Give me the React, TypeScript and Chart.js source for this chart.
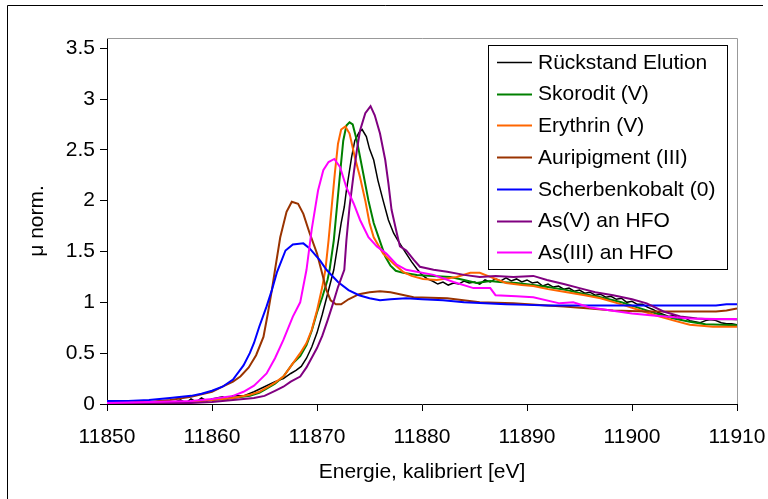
import React, { useEffect, useRef } from "react";
import { Chart, registerables } from "chart.js";

Chart.register(...registerables);

// ---------- data ----------
const seriesNames = [
  "Rückstand Elution",
  "Skorodit (V)",
  "Erythrin (V)",
  "Auripigment (III)",
  "Scherbenkobalt (0)",
  "As(V) an HFO",
  "As(III) an HFO",
];
const seriesColors = ["#000000", "#008000", "#FF6600", "#993300", "#0000FF", "#800080", "#FF00FF"];
const seriesWidths = [1.5, 2, 2, 2, 2, 2, 2];

const xTicks = [11850, 11860, 11870, 11880, 11890, 11900, 11910];
const yTicks = [0, 0.5, 1, 1.5, 2, 2.5, 3, 3.5];

const rueckstandE = [
  11850, 11851, 11852, 11853, 11854, 11855, 11856, 11857, 11857.5, 11858, 11858.5, 11859, 11859.5, 11860, 11861,
  11861.5, 11862, 11863, 11864, 11865, 11866, 11866.8, 11867.5, 11868, 11868.5, 11869, 11869.5, 11870, 11870.5,
  11871, 11871.6, 11872, 11872.3, 11872.6, 11872.8, 11873.3, 11873.6, 11874, 11874.3, 11874.7, 11875, 11875.4,
  11875.8, 11876.3, 11876.8, 11877.3, 11877.7,
  11878, 11878.5, 11879, 11879.5, 11880, 11880.5, 11881, 11881.5, 11882, 11882.5, 11883, 11883.5, 11884, 11884.5,
  11885, 11885.5, 11886, 11886.5, 11887, 11887.5, 11888, 11888.5, 11889, 11889.5, 11890, 11890.5, 11891, 11891.5,
  11892, 11892.5, 11893, 11893.5, 11894, 11894.5, 11895, 11895.5, 11896, 11896.5, 11897, 11897.5, 11898, 11898.5,
  11899, 11899.5, 11900, 11900.5, 11901, 11901.5, 11902, 11902.5, 11903, 11903.5, 11904, 11904.5, 11905, 11905.5,
  11906, 11906.5, 11907, 11907.5, 11908, 11908.5, 11909, 11909.5, 11910,
];
const rueckstandMu = [
  0.01, 0.02, 0.0, 0.03, 0.01, 0.03, 0.0, 0.04, 0.01, 0.05, 0.02, 0.06, 0.03, 0.05, 0.07,
  0.05, 0.08, 0.08, 0.12, 0.17, 0.22, 0.25, 0.3, 0.33, 0.37, 0.45, 0.56, 0.7, 0.88,
  1.08, 1.32, 1.58, 1.78, 1.94, 2.1, 2.43, 2.59, 2.67, 2.7, 2.63, 2.51, 2.4,
  2.2, 2.0, 1.81, 1.68, 1.61,
  1.56, 1.48, 1.4, 1.33, 1.27, 1.23, 1.21, 1.18, 1.2, 1.17, 1.19, 1.18, 1.21, 1.19,
  1.2, 1.18, 1.22, 1.2, 1.23, 1.21, 1.24, 1.21, 1.23, 1.2, 1.22, 1.19, 1.2, 1.16,
  1.18, 1.15, 1.16, 1.13, 1.14, 1.11, 1.12, 1.09, 1.1, 1.07, 1.08, 1.05, 1.06, 1.03,
  1.04, 1.0, 1.01, 0.98, 0.98, 0.95, 0.93, 0.9, 0.88, 0.86, 0.87, 0.84, 0.85, 0.82,
  0.81, 0.8, 0.82, 0.83, 0.82, 0.8, 0.79, 0.79, 0.78,
];

const skoroditE = [
  11850, 11854, 11858, 11860, 11862, 11863.6, 11864.5, 11865.2, 11866, 11866.8, 11867.7, 11868.4, 11869, 11869.5,
  11870, 11870.5, 11871, 11871.2, 11871.6, 11871.9, 11872.2, 11872.5, 11872.8, 11873.1, 11873.4, 11873.8, 11874.4,
  11874.9, 11875.4, 11876, 11876.5, 11877, 11877.5, 11878.2, 11879.5, 11881, 11882.7, 11884, 11885.2, 11886.5,
  11887.4, 11889, 11890.6, 11892, 11893.8, 11895.5, 11897, 11899, 11900.5, 11902.3, 11904, 11905.5, 11907, 11908.5,
  11910,
];
const skoroditMu = [
  0.01, 0.01, 0.02, 0.04, 0.06, 0.08, 0.11, 0.15, 0.2, 0.27, 0.4, 0.47, 0.58, 0.72,
  0.9, 1.05, 1.22, 1.32, 1.61, 1.94, 2.27, 2.59, 2.74, 2.77, 2.75, 2.59, 2.27,
  2.0, 1.78, 1.6, 1.45, 1.36, 1.31, 1.29, 1.27, 1.26, 1.25, 1.22, 1.19, 1.21,
  1.2, 1.19, 1.17, 1.15, 1.12, 1.08, 1.05, 1.0, 0.95, 0.89, 0.84, 0.81, 0.785, 0.78,
  0.775,
];

const erythrinE = [
  11850, 11854, 11858, 11860, 11862, 11863.6, 11864.5, 11865.2, 11866, 11866.8, 11867.7, 11868.4, 11869, 11869.5,
  11870, 11870.5, 11870.8, 11871.1, 11871.4, 11871.7, 11872, 11872.3, 11872.7, 11873.1, 11873.6, 11874.1, 11874.6,
  11875, 11875.4, 11876.3, 11877.3, 11878.2, 11879, 11880.1, 11881.4, 11883.3, 11884.6, 11885.5, 11886.5, 11888,
  11889.5, 11890.6, 11892, 11893.8, 11895.5, 11897, 11899, 11900.5, 11902.3, 11904, 11905.5, 11907.7, 11910,
];
const erythrinMu = [
  0.0, 0.01, 0.02, 0.04, 0.06, 0.09, 0.12, 0.16, 0.21, 0.27, 0.4, 0.5, 0.6, 0.73,
  0.92, 1.15, 1.32, 1.61, 1.94, 2.27, 2.56, 2.7, 2.73, 2.66, 2.43, 2.23, 2.0,
  1.78, 1.64, 1.48, 1.38, 1.3, 1.26, 1.23, 1.22, 1.25, 1.29, 1.29, 1.25, 1.19,
  1.17, 1.16, 1.13, 1.1, 1.07, 1.04, 0.98, 0.93, 0.87, 0.82, 0.78, 0.76, 0.76,
];

const auripigmentE = [
  11850, 11854, 11856, 11858, 11860, 11861, 11862, 11862.7, 11863.5, 11864.2, 11864.9, 11865.3, 11865.7, 11866,
  11866.5, 11867.1, 11867.6, 11868.2, 11868.7, 11869.3, 11870, 11870.4, 11870.9, 11871.3, 11871.8, 11872.3, 11873,
  11874, 11875, 11876, 11877, 11879.2, 11882.4, 11885.5, 11888.7, 11891.9, 11893.5, 11896, 11898.2, 11901.4,
  11904, 11906.2, 11908, 11909, 11910,
];
const auripigmentMu = [
  0.01, 0.02, 0.04, 0.07, 0.12, 0.17, 0.22, 0.27, 0.36, 0.48, 0.66, 0.88, 1.12, 1.32,
  1.64, 1.89, 1.99, 1.97, 1.87, 1.68, 1.48, 1.32, 1.12, 1.02, 0.98, 0.98, 1.03,
  1.08, 1.1, 1.11, 1.1, 1.05, 1.04, 1.0, 0.99, 0.97, 0.96, 0.94, 0.92, 0.91,
  0.91, 0.91, 0.91, 0.92, 0.94,
];

const scherbenkobaltE = [
  11850, 11852, 11854, 11856, 11858, 11859, 11860, 11861, 11862, 11863, 11863.6, 11864, 11864.5, 11865.2, 11865.7,
  11866.2, 11867, 11867.7, 11868.7, 11869.3, 11870.3, 11870.9, 11872, 11873, 11874, 11875, 11876, 11877, 11878.5,
  11880, 11882, 11884, 11886, 11888, 11890, 11892, 11895, 11900, 11905, 11908, 11909, 11910,
];
const scherbenkobaltMu = [
  0.03, 0.03, 0.04, 0.06, 0.08, 0.1, 0.13, 0.17, 0.24, 0.38, 0.5, 0.6, 0.76, 0.96, 1.12,
  1.3, 1.51, 1.57, 1.58, 1.53, 1.41, 1.32, 1.2, 1.12, 1.07, 1.04, 1.02, 1.03, 1.04,
  1.03, 1.02, 1.0, 0.99, 0.98, 0.975, 0.97, 0.97, 0.97, 0.97, 0.97, 0.98, 0.98,
];

const asVHfoE = [
  11850, 11856, 11858, 11860, 11862, 11863, 11864, 11865, 11866, 11866.8, 11867.5, 11868.4, 11869, 11870, 11870.5,
  11871, 11871.5, 11872, 11872.6, 11872.8, 11873.1, 11873.5, 11873.8, 11874.1, 11874.6, 11875.1, 11875.5, 11876,
  11876.5, 11876.8, 11877.1, 11877.6, 11877.9, 11878.5, 11879.2, 11879.8, 11881.1, 11882.4, 11884, 11885.5, 11887,
  11888.7, 11890.6, 11891.9, 11893.5, 11895, 11896.5, 11898.2, 11900, 11901.4, 11903, 11904.6, 11906.2, 11907.7,
  11909, 11910,
];
const asVHfoMu = [
  0.0, 0.01, 0.01, 0.02, 0.04, 0.05, 0.06, 0.08, 0.13, 0.17, 0.22, 0.27, 0.36, 0.55, 0.67,
  0.82, 0.98, 1.15, 1.32, 1.61, 1.94, 2.27, 2.5, 2.69, 2.86, 2.93, 2.84, 2.66,
  2.4, 2.17, 1.91, 1.68, 1.55, 1.51, 1.42, 1.35, 1.32, 1.3, 1.27, 1.25, 1.26,
  1.25, 1.26, 1.22, 1.18, 1.14, 1.1, 1.07, 1.03, 0.99, 0.91, 0.86, 0.84, 0.83,
  0.835, 0.83,
];

const asIIIHfoE = [
  11850, 11854, 11858, 11860, 11862, 11863, 11864, 11864.5, 11865.2, 11866, 11866.8, 11867.7, 11868.4, 11869,
  11869.5, 11870.1, 11870.6, 11871.1, 11871.65, 11872.2, 11872.8, 11873.5, 11874.1, 11874.9, 11875.7, 11876.6,
  11877.6, 11878.5, 11879.5, 11881.1, 11883, 11884.9, 11886.5, 11887, 11889, 11890.6, 11893.1, 11894.4, 11896,
  11898, 11900, 11902, 11905.5, 11908, 11910,
];
const asIIIHfoMu = [
  0.01, 0.02, 0.03, 0.05, 0.08, 0.12, 0.18, 0.23, 0.3, 0.45, 0.63, 0.86, 1.0, 1.32,
  1.72, 2.1, 2.3, 2.38, 2.41, 2.33, 2.13, 1.97, 1.81, 1.64, 1.55, 1.48,
  1.37, 1.32, 1.3, 1.27, 1.2, 1.14, 1.14, 1.07, 1.06, 1.05, 0.99, 1.0, 0.95,
  0.92, 0.89, 0.87, 0.84, 0.835, 0.835,
];

const seriesEnergies = [rueckstandE, skoroditE, erythrinE, auripigmentE, scherbenkobaltE, asVHfoE, asIIIHfoE];
const seriesValues = [rueckstandMu, skoroditMu, erythrinMu, auripigmentMu, scherbenkobaltMu, asVHfoMu, asIIIHfoMu];

const xTitle = "Energie, kalibriert [eV]";
const yTitle = "μ norm.";

const FONT = "'Liberation Sans', Arial, sans-serif";
const FS = 21;

export default function App() {
  const ref = useRef<HTMLCanvasElement>(null);

  useEffect(() => {
    if (!ref.current) return;
    const datasets = seriesNames.map((name, i) => ({
      label: name,
      data: seriesEnergies[i].map((x, j) => ({ x, y: seriesValues[i][j] })),
      borderColor: seriesColors[i],
      backgroundColor: seriesColors[i],
      borderWidth: seriesWidths[i],
      pointRadius: 0,
      tension: 0,
      fill: false,
      order: -i,
    }));

    const framePlugin = {
      id: "frame",
      beforeDatasetsDraw(chart: any) {
        const { ctx, chartArea } = chart;
        ctx.save();
        ctx.strokeStyle = "#999999";
        ctx.lineWidth = 1;
        ctx.beginPath();
        ctx.moveTo(chartArea.left, Math.round(chartArea.top) + 0.5);
        ctx.lineTo(Math.round(chartArea.right) + 0.5, Math.round(chartArea.top) + 0.5);
        ctx.lineTo(Math.round(chartArea.right) + 0.5, chartArea.bottom);
        ctx.stroke();
        ctx.restore();
      },
      afterDraw(chart: any) {
        const { ctx, chartArea } = chart;
        ctx.save();
        // outer border
        ctx.strokeStyle = "#000";
        ctx.lineWidth = 1;
        ctx.beginPath();
        ctx.moveTo(7.5, 499);
        ctx.lineTo(7.5, 5.5);
        ctx.lineTo(763, 5.5);
        ctx.stroke();

        // axis titles
        ctx.fillStyle = "#000";
        ctx.font = `${FS}px ${FONT}`;
        ctx.textAlign = "center";
        ctx.textBaseline = "middle";
        ctx.fillText(xTitle, (chartArea.left + chartArea.right) / 2, 472);
        ctx.save();
        ctx.translate(37, (chartArea.top + chartArea.bottom) / 2);
        ctx.rotate(-Math.PI / 2);
        ctx.fillText(yTitle, 0, 0);
        ctx.restore();

        // legend
        const lx = 488, ly = 45, lw = 239, lh = 224;
        ctx.fillStyle = "#fff";
        ctx.fillRect(lx, ly, lw, lh);
        ctx.strokeStyle = "#000";
        ctx.strokeRect(lx + 0.5, ly + 0.5, lw, lh);
        ctx.textAlign = "left";
        ctx.textBaseline = "middle";
        seriesNames.forEach((n, i) => {
          const y = ly + 17 + i * 31.7;
          ctx.strokeStyle = seriesColors[i];
          ctx.lineWidth = seriesWidths[i];
          ctx.beginPath();
          ctx.moveTo(lx + 9, Math.round(y) + 0.5);
          ctx.lineTo(lx + 44, Math.round(y) + 0.5);
          ctx.stroke();
          ctx.fillStyle = "#000";
          ctx.fillText(n, lx + 50, y + 1);
        });
        ctx.restore();
      },
    };

    const chart = new Chart(ref.current, {
      type: "line",
      data: { datasets },
      options: {
        animation: false,
        responsive: false,
        devicePixelRatio: 1,
        layout: { padding: { left: 0, top: 38, right: 31, bottom: 0 } },
        plugins: { legend: { display: false }, tooltip: { enabled: false }, title: { display: false } },
        scales: {
          x: {
            type: "linear",
            min: xTicks[0],
            max: xTicks[xTicks.length - 1],
            afterBuildTicks: (s: any) => {
              s.ticks = xTicks.map((v) => ({ value: v }));
            },
            afterFit: (s: any) => {
              s.height = 95;
              s.paddingLeft = 0;
              s.paddingRight = 0;
            },
            ticks: {
              color: "#000",
              font: { family: FONT, size: FS },
              padding: 14,
              maxRotation: 0,
              autoSkip: false,
              callback: (v: any) => String(v),
            },
            grid: { display: true, drawOnChartArea: false, drawTicks: true, tickLength: 7, color: "#000" },
            border: { display: true, color: "#000", width: 1 },
          },
          y: {
            type: "linear",
            min: 0,
            max: 3.6,
            afterBuildTicks: (s: any) => {
              s.ticks = yTicks.map((v) => ({ value: v }));
            },
            afterFit: (s: any) => {
              s.width = 107;
              s.paddingTop = 0;
              s.paddingBottom = 0;
            },
            ticks: {
              color: "#000",
              font: { family: FONT, size: FS },
              padding: 5,
              callback: (v: any) => String(v),
            },
            grid: { display: true, drawOnChartArea: false, drawTicks: true, tickLength: 7, color: "#000" },
            border: { display: true, color: "#000", width: 1 },
          },
        },
      },
      plugins: [framePlugin],
    } as any);
    return () => chart.destroy();
  }, []);

  return (
    <div style={{ position: "absolute", left: 0, top: 0, width: 768, height: 499, background: "#fff" }}>
      <canvas ref={ref} width={768} height={499} style={{ display: "block", width: 768, height: 499 }} />
    </div>
  );
}
